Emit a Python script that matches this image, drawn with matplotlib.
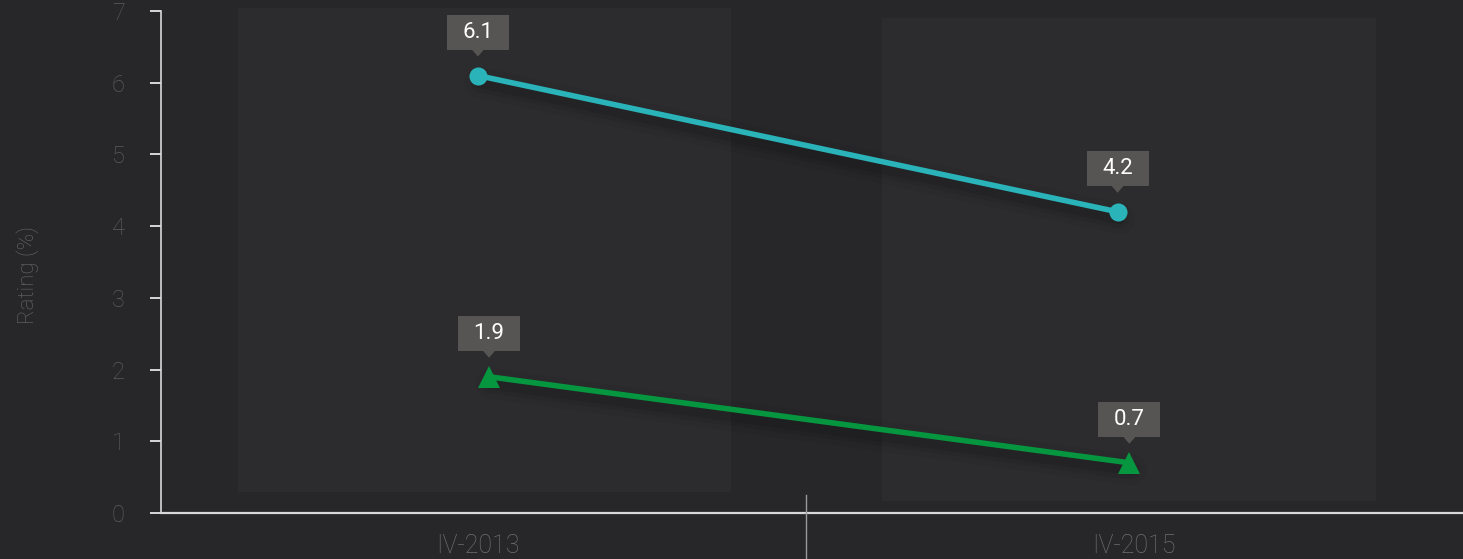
import numpy as np
import matplotlib
matplotlib.use("Agg")
import matplotlib.pyplot as plt
import matplotlib.patches as mp
import matplotlib.transforms as mt

plt.rcParams["font.family"] = ["Roboto", "DejaVu Sans"]

# data
categories = ["IV-2013", "IV-2015"]
series_a = [6.1, 4.2]   # teal circles
series_b = [1.9, 0.7]   # green triangles
# small per-series horizontal placement (as in the original)
xpos_a = [0.0, 0.975]
xpos_b = [0.017, 0.993]

BG = "#27272a"
BAND = "#2c2c2e"
TEAL = "#2ab3b8"
GREEN = "#06963f"
BOX = "#565553"

fig = plt.figure(figsize=(14.63, 5.59), dpi=100, facecolor=BG)
ax = fig.add_axes([161 / 1463, 46 / 559, 1 - 161 / 1463, 502 / 559])
ax.set_facecolor(BG)
ax.set_xlim(-0.483, 1.5015)
ax.set_ylim(0, 7)

# background bands behind each category
ax.add_patch(mp.Rectangle((-0.366, 0.29), 0.752, 6.75, color=BAND, lw=0, zorder=0, clip_on=False))
ax.add_patch(mp.Rectangle((0.616, 0.17), 0.753, 6.73, color=BAND, lw=0, zorder=0, clip_on=False))

# soft shadows under the lines
sh = ax.transData + mt.ScaledTranslation(0.02, -0.07, fig.dpi_scale_trans)
for xs, ys in [(xpos_a, series_a), (xpos_b, series_b)]:
    for lw, a in [(22, 0.04), (14, 0.06), (8, 0.08)]:
        ax.plot(xs, ys, color="black", lw=lw, alpha=a, solid_capstyle="round", zorder=1, transform=sh)

ax.plot(xpos_a, series_a, color=TEAL, lw=4, zorder=3)
ax.plot(xpos_a, series_a, ls="none", marker="o", ms=13, markeredgewidth=0, color=TEAL, zorder=4)
ax.plot(xpos_b, series_b, color=GREEN, lw=4, zorder=3)
ax.plot(xpos_b, series_b, ls="none", marker="^", ms=16, markeredgewidth=0, color=GREEN, zorder=4)


def label(x, y, txt):
    tr = fig.dpi_scale_trans + mt.ScaledTranslation(x, y, ax.transData)
    ax.add_patch(mp.Rectangle((-0.31, 0.26), 0.62, 0.35, transform=tr, color=BOX, lw=0,
                              zorder=5, clip_on=False))
    ax.add_patch(mp.Polygon([(-0.065, 0.265), (0.065, 0.265), (0, 0.19)], closed=True,
                            transform=tr, color=BOX, lw=0, zorder=5, clip_on=False))
    ax.text(0, 0.435, txt, transform=tr, ha="center", va="center", color="white",
            fontsize=16, zorder=6, clip_on=False)


for x, y in zip(xpos_a, series_a):
    label(x, y, f"{y:.1f}")
for x, y in zip(xpos_b, series_b):
    label(x, y, f"{y:.1f}")

# axes styling
for s in ["top", "right"]:
    ax.spines[s].set_visible(False)
ax.spines["left"].set_color("#d8d8d8")
ax.spines["left"].set_linewidth(1.2)
ax.spines["bottom"].set_color("#d8d8d8")
ax.spines["bottom"].set_linewidth(1.6)

ax.set_yticks(range(8))
ax.tick_params(axis="y", length=8, width=1.4, color="#d8d8d8", labelcolor="#5c5c5c",
               labelsize=17, pad=18)
ax.set_xticks(range(len(categories)))
ax.set_xticklabels(categories)
ax.tick_params(axis="x", length=0, labelcolor="#707070", labelsize=18, pad=15)
for t in ax.get_yticklabels() + ax.get_xticklabels():
    t.set_fontweight("light")

ax.set_ylabel("Rating (%)", color="#686868", fontsize=16, fontweight="light")
ax.yaxis.set_label_coords(-0.094, 0.475)

# category divider tick
trb = mt.blended_transform_factory(ax.transData, ax.transAxes)
ax.plot([0.5, 0.5], [0.036, -0.1], transform=trb, color="#9a9a9a", lw=1.0, clip_on=False, zorder=4)

fig.savefig("out.png", dpi=100, facecolor=BG)
